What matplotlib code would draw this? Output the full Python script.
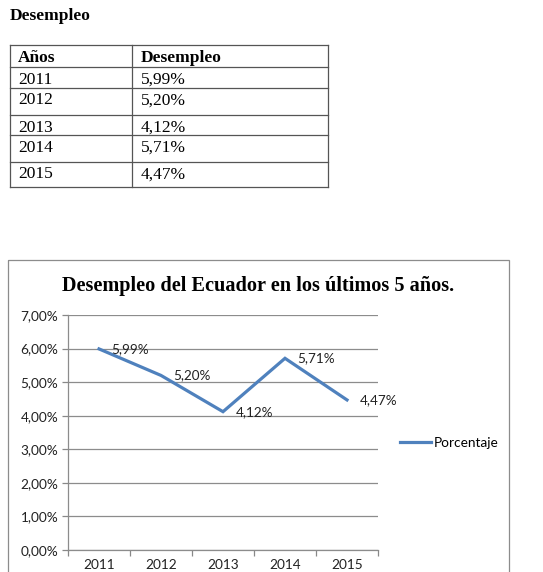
import matplotlib.pyplot as plt
from matplotlib.ticker import FuncFormatter, FixedLocator
from matplotlib.patches import Rectangle

years = ['2011', '2012', '2013', '2014', '2015']
desempleo = [5.99, 5.20, 4.12, 5.71, 4.47]
series_name = 'Porcentaje'
title = 'Desempleo del Ecuador en los últimos 5 años.'

W, H = 543, 572
blue = '#4F81BD'
serif = 'Liberation Serif'
sans = 'Lato'

def pct(v, pos=None):
    return '{:.2f}%'.format(v).replace('.', ',')

fig = plt.figure(figsize=(W/100, H/100), dpi=100)

## page background: heading, table, chart frame (pixel coords)
bg = fig.add_axes([0, 0, 1, 1], zorder=0)
bg.set_xlim(0, W)
bg.set_ylim(H, 0)
bg.axis('off')

bg.text(10, 16, 'Desempleo', family=serif, weight='bold', fontsize=12.5,
        va='center', ha='left')

tx0, tx1, tx2 = 10, 132, 328
row_lines = [45, 67, 88, 115, 135, 162, 187]
lc = '#555555'
for y in row_lines:
    bg.plot([tx0, tx2], [y, y], color=lc, lw=0.9)
for x in (tx0, tx1, tx2):
    bg.plot([x, x], [row_lines[0], row_lines[-1]], color=lc, lw=0.9)

rows = [('Años', 'Desempleo')] + [(y, pct(v)) for y, v in zip(years, desempleo)]
for i, (a, b) in enumerate(rows):
    yc = row_lines[i] + 12.5
    w = 'bold' if i == 0 else 'normal'
    bg.text(18, yc, a, family=serif, weight=w, fontsize=12.5, va='center')
    bg.text(141, yc, b, family=serif, weight=w, fontsize=12.5, va='center')

bg.add_patch(Rectangle((8, 260), 501, 330, fill=False, ec='#8c8c8c', lw=0.9))
bg.text(258.5, 286, title, family=serif, weight='bold', fontsize=14.6,
        ha='center', va='center')

## chart
l, r, t, b = 68, 378, 315, 550
ax = fig.add_axes([l/W, (H-b)/H, (r-l)/W, (b-t)/H], zorder=1)
ax.patch.set_alpha(0)
x = list(range(len(years)))
ax.plot(x, desempleo, color=blue, lw=2.3, label=series_name, solid_joinstyle='miter')
for xi, v in zip(x, desempleo):
    ax.annotate(pct(v), (xi, v), xytext=(9, 0), textcoords='offset points',
                va='center', ha='left', family=sans, fontsize=9.7, color='#222222')

ax.set_xlim(-0.5, len(years)-0.5)
ax.set_ylim(0, 7)
ax.set_yticks(range(8))
ax.yaxis.set_major_formatter(FuncFormatter(pct))
ax.set_xticks(x)
ax.set_xticklabels(years)
ax.xaxis.set_minor_locator(FixedLocator([i - 0.5 for i in range(len(years)+1)]))
ax.tick_params(axis='x', which='major', length=0, pad=6.5)
ax.tick_params(axis='x', which='minor', length=4, color='#888888', width=0.9)
ax.tick_params(axis='y', length=4, color='#888888', width=0.9, pad=3)
for lab in ax.get_xticklabels() + ax.get_yticklabels():
    lab.set_family(sans)
    lab.set_fontsize(9.8)
    lab.set_color('#222222')
ax.grid(axis='y', color='#8c8c8c', lw=0.9)
ax.set_axisbelow(True)
for s in ('top', 'right'):
    ax.spines[s].set_visible(False)
for s in ('left', 'bottom'):
    ax.spines[s].set_color('#8c8c8c')
    ax.spines[s].set_linewidth(0.9)

leg = ax.legend(loc='center left', bbox_to_anchor=((400-l)/(r-l), (b-443)/(b-t)),
                frameon=False, handlelength=2.3, handletextpad=0.15,
                borderpad=0, borderaxespad=0, prop={'family': sans, 'size': 9.8})

fig.savefig('out.png', dpi=100, facecolor='white')
